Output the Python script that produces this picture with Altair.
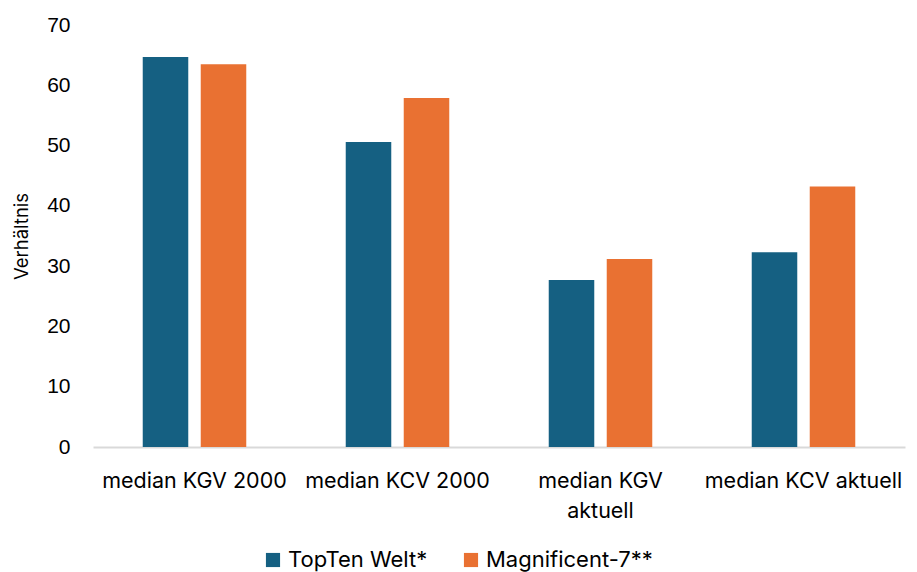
import altair as alt
import pandas as pd

categories = ["median KGV 2000", "median KCV 2000", "median KGV aktuell", "median KCV aktuell"]
series = ["TopTen Welt*", "Magnificent-7**"]
topten = [64.7, 50.6, 27.7, 32.3]
mag7 = [63.5, 57.9, 31.2, 43.2]
colors = ["#156082", "#E97132"]

rows = []
for c, a, b in zip(categories, topten, mag7):
    rows.append({"Kategorie": c, "Serie": series[0], "Wert": a})
    rows.append({"Kategorie": c, "Serie": series[1], "Wert": b})
df = pd.DataFrame(rows)

chart = alt.Chart(df).mark_bar().encode(
    x=alt.X("Kategorie:N", sort=categories, title=None,
            scale=alt.Scale(paddingInner=0.49, paddingOuter=0.245),
            axis=alt.Axis(labelAngle=0, ticks=False, domainColor="#d9d9d9", domainWidth=2,
                          labelFont="Inter", labelFontSize=21.5, labelColor="#000000",
                          labelPadding=23, labelLimit=300, labelLineHeight=30,
                          labelExpr="datum.label == 'median KGV aktuell' ? ['median KGV', 'aktuell'] : datum.label")),
    xOffset=alt.XOffset("Serie:N", sort=series, scale=alt.Scale(paddingInner=0.215)),
    y=alt.Y("Wert:Q", title="Verhältnis",
            scale=alt.Scale(domain=[0, 70]),
            axis=alt.Axis(values=[0, 10, 20, 30, 40, 50, 60, 70], grid=False, domain=False, ticks=False,
                          labelFont="Liberation Sans", labelFontSize=21, labelColor="#000000", labelPadding=23,
                          titleFont="Inter", titleFontSize=18.5, titleFontWeight="normal",
                          titleColor="#000000", titlePadding=15)),
    color=alt.Color("Serie:N", sort=series, scale=alt.Scale(domain=series, range=colors),
                    legend=alt.Legend(title=None, orient="none", legendX=169, legendY=524,
                                      direction="horizontal", symbolType="square", symbolSize=200,
                                      labelFont="Inter", labelFontSize=22, labelColor="#000000",
                                      labelLimit=400, columnPadding=32, symbolStrokeWidth=0)),
).properties(
    width=812, height=422,
    autosize=alt.AutoSizeParams(type="none"),
    padding={"left": 85, "top": 17, "right": 4, "bottom": 135},
).configure_view(stroke=None)

chart.save("out.html", embed_options={"renderer": "svg", "actions": False})
